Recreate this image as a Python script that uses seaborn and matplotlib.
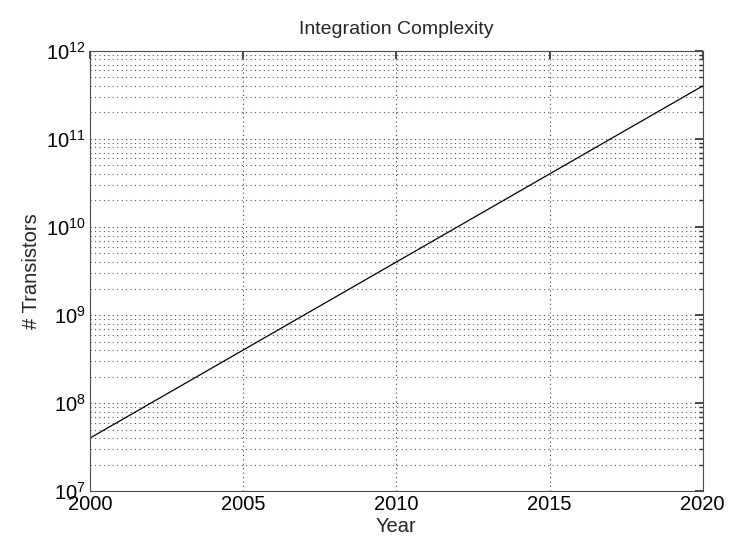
import matplotlib
matplotlib.use("Agg")
import matplotlib.pyplot as plt
import seaborn as sns
import pandas as pd
from matplotlib.ticker import LogLocator, NullFormatter

years = [2000, 2005, 2010, 2015, 2020]
transistors = [4e7, 4e8, 4e9, 4e10, 4e11]
x_ticks = [2000, 2005, 2010, 2015, 2020]

sns.set_theme(style="white")
plt.rcParams["font.family"] = ["Liberation Sans", "DejaVu Sans"]
plt.rcParams["mathtext.fontset"] = "custom"
plt.rcParams["mathtext.rm"] = "Liberation Sans"
plt.rcParams["mathtext.it"] = "Liberation Sans"

df = pd.DataFrame({"Year": years, "Transistors": transistors})

fig = plt.figure(figsize=(7.42, 5.42), dpi=100)
ax = fig.add_axes([0.1213, 0.094, 0.8257, 0.812])
sns.lineplot(data=df, x="Year", y="Transistors", ax=ax, color="black", linewidth=0.9)

ax.set_yscale("log")
ax.set_xlim(2000, 2020)
ax.set_ylim(1e7, 1e12)
ax.set_xticks(x_ticks)
ax.yaxis.set_major_locator(LogLocator(base=10, numticks=10))
ax.yaxis.set_minor_locator(LogLocator(base=10, subs=range(2, 10), numticks=20))
ax.yaxis.set_minor_formatter(NullFormatter())

dots = (0, (1, 3))
ax.grid(True, which="major", axis="both", linestyle=dots, color="0.25", linewidth=0.8)
ax.grid(True, which="minor", axis="y", linestyle=dots, color="0.35", linewidth=0.8)

for s in ax.spines.values():
    s.set_color("0.3")
    s.set_linewidth(0.8)
ax.tick_params(which="both", direction="in", top=True, right=True, labelsize=14.5,
               color="0.2", labelcolor="black", pad=3)
ax.tick_params(which="major", length=6)
ax.tick_params(which="minor", length=3)

ax.set_xlabel("Year", fontsize=14.5, labelpad=2)
ax.set_ylabel("# Transistors", fontsize=14.5, labelpad=4)
ax.set_title("Integration Complexity", fontsize=14, pad=12)

fig.savefig("out.png", dpi=100)
